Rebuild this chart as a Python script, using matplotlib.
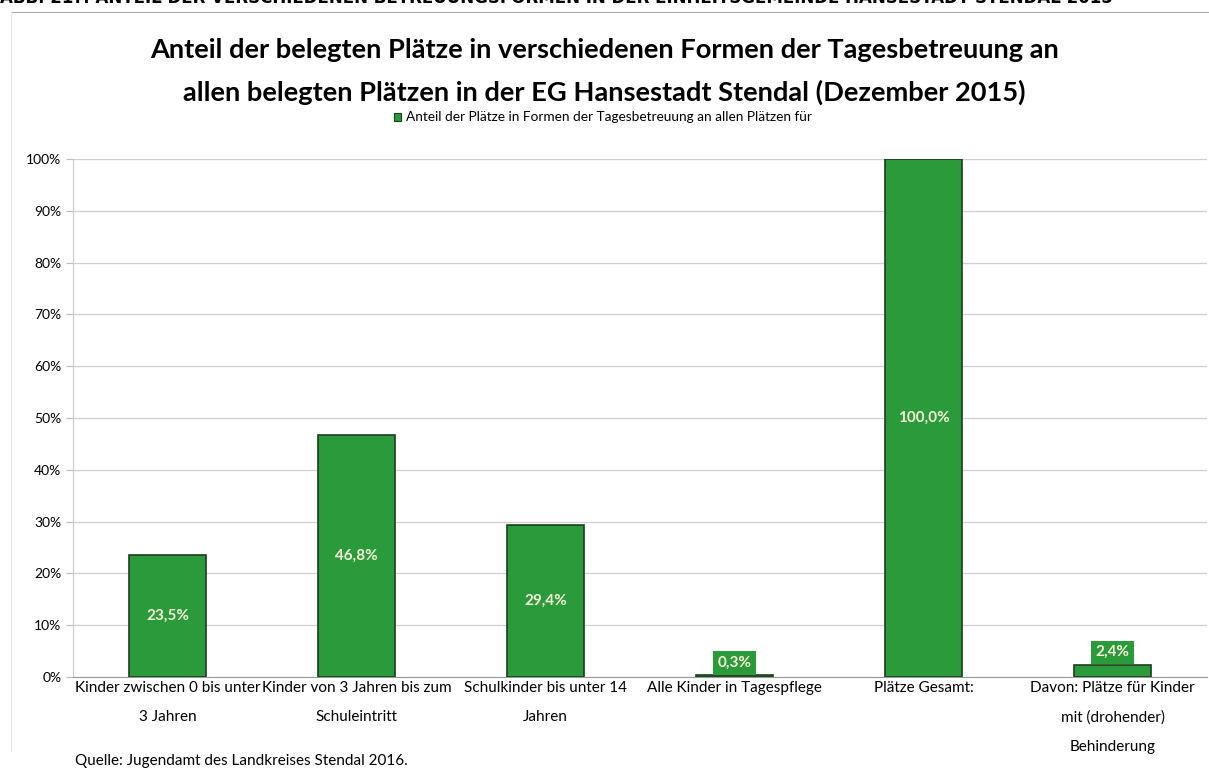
import matplotlib.pyplot as plt
from matplotlib.ticker import PercentFormatter

categories = [
    "Kinder zwischen 0 bis unter\n3 Jahren",
    "Kinder von 3 Jahren bis zum\nSchuleintritt",
    "Schulkinder bis unter 14\nJahren",
    "Alle Kinder in Tagespflege",
    "Plätze Gesamt:",
    "Davon: Plätze für Kinder\nmit (drohender)\nBehinderung",
]
shares = [23.5, 46.8, 29.4, 0.3, 100.0, 2.4]
labels = ["23,5%", "46,8%", "29,4%", "0,3%", "100,0%", "2,4%"]

green = "#2a9a3a"
font = "Lato"

fig = plt.figure(figsize=(12.09, 7.74), dpi=100)
ax = fig.add_axes([0.0605, 0.1253, 0.938, 0.6693])

x = range(len(categories))
ax.bar(x, shares, width=0.41, color=green, edgecolor="#1b3d1f", linewidth=1.2, zorder=3)

for i, (v, lab) in enumerate(zip(shares, labels)):
    if v > 10:
        ax.text(i, v / 2, lab, ha="center", va="center", color="#f4f7d8",
                fontsize=11, fontweight="bold", family=font, zorder=4)
    else:
        ax.text(i, v + 2.4, lab, ha="center", va="center", color="#f4f7d8",
                fontsize=11, fontweight="bold", family=font, zorder=4,
                bbox=dict(boxstyle="square,pad=0.3", fc=green, ec="none"))

ax.set_xlim(-0.5, len(categories) - 0.5)
ax.set_ylim(0, 100)
ax.set_yticks(range(0, 101, 10))
ax.yaxis.set_major_formatter(PercentFormatter(decimals=0))
ax.set_xticks(list(x))
ax.set_xticklabels(categories, family=font, fontsize=11, linespacing=2.35, va="top")
ax.tick_params(axis="y", labelsize=10, length=5, color="#bbbbbb")
ax.tick_params(axis="x", length=0, pad=3)
for t in ax.get_yticklabels():
    t.set_family(font)
ax.grid(axis="y", color="#cfcfcf", linewidth=0.9, zorder=0)
for s in ["top", "right"]:
    ax.spines[s].set_visible(False)
ax.spines["left"].set_color("#cccccc")
ax.spines["bottom"].set_color("#999999")

fig.text(0.5, 0.908, "Anteil der belegten Plätze in verschiedenen Formen der Tagesbetreuung an\n"
         "allen belegten Plätzen in der EG Hansestadt Stendal (Dezember 2015)",
         ha="center", va="center", fontsize=19.6, fontweight="bold", family=font,
         linespacing=1.85)

fig.text(0.5035, 0.849, "Anteil der Plätze in Formen der Tagesbetreuung an allen Plätzen für",
         ha="center", va="center", fontsize=9.8, family=font)
fig.patches.append(plt.Rectangle((0.3255, 0.8435), 0.0065, 0.0105, transform=fig.transFigure,
                                 fc=green, ec="#1b3d1f", lw=0.8))

fig.text(0.0, 1.002, "ABB. 21?: ANTEIL DER VERSCHIEDENEN BETREUUNGSFORMEN IN DER EINHEITSGEMEINDE HANSESTADT STENDAL 2015",
         ha="left", va="center", fontsize=12, fontweight="bold", family="DejaVu Sans")
fig.add_artist(plt.Line2D([0.01, 1.0], [0.984, 0.984], color="#aaaaaa", lw=0.8))
fig.add_artist(plt.Line2D([0.009, 0.009], [0.03, 0.984], color="#e6e6e6", lw=0.8))

fig.text(0.062, 0.017, "Quelle: Jugendamt des Landkreises Stendal 2016.",
         ha="left", va="center", fontsize=11, family=font)

fig.savefig("out.png", dpi=100)
